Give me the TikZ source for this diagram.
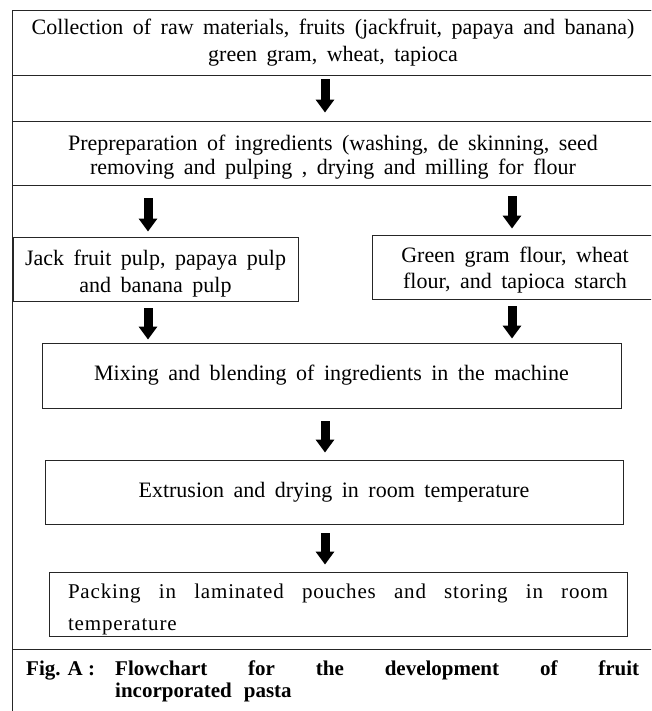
\documentclass[tikz,border=0pt]{standalone}
\usepackage{fontspec}
\setmainfont{Liberation Serif}
\newfontfamily\packfont[LetterSpace=4]{Liberation Serif}
\usetikzlibrary{arrows.meta}
\newcommand\bodyfont{\fontsize{22}{27}\selectfont\spaceskip=9.5pt plus 3pt minus 2pt\relax}
\newcommand\upstrut[1]{\rule{0pt}{#1}}
\begin{document}
\begin{tikzpicture}[x=1pt,y=-1pt,
  box/.style={draw=black!85, line width=0.9pt, inner sep=0pt, align=center, font=\bodyfont},
  blockarrow/.style={line width=9pt, -{Triangle[width=18pt,length=13pt]}},
  frame/.style={draw=black!85, line width=0.9pt}
]
\useasboundingbox (0,0) rectangle (651,711);
\clip (0,0) rectangle (651,711);
% outer frame and caption rule
\draw[frame] (12,720) -- (12,10) -- (662,10) -- (662,720);
\draw[frame] (12,649) -- (662,649);
% boxes
\node[box, minimum width=642pt, minimum height=65pt] (b1) at (333,42.5)
  {Collection of raw materials, fruits (jackfruit, papaya and banana)\\green gram, wheat, tapioca};
\node[box, minimum width=642pt, minimum height=64pt, font=\bodyfont\fontsize{22}{24}\selectfont] (b2) at (333,153)
  {\upstrut{23pt}Prepreparation of ingredients (washing, de skinning, seed\\removing and pulping , drying and milling for flour};
\node[box, minimum width=285pt, minimum height=64pt] (b3a) at (155.5,269)
  {\upstrut{25pt}Jack fruit pulp, papaya pulp\\and banana pulp};
\node[box, minimum width=286pt, minimum height=64pt, font=\bodyfont\fontsize{22}{26}\selectfont] (b3b) at (515,267)
  {\upstrut{21pt}Green gram flour, wheat\\flour, and tapioca starch};
\node[box, minimum width=579pt, minimum height=65pt] (b4) at (331.5,375.5)
  {Mixing and blending of ingredients in the machine};
\node[box, minimum width=578pt, minimum height=64pt] (b5) at (334,492)
  {Extrusion and drying in room temperature};
\node[box, minimum width=578pt, minimum height=64pt, align=left,
      font=\packfont\fontsize{21}{32}\selectfont] (b6) at (338,604)
  {\upstrut{26pt}\makebox[540pt][s]{Packing in laminated pouches and storing in room}\\temperature};
% caption
\node[anchor=base west, inner sep=0pt, font=\bfseries\fontsize{21}{22}\selectfont] (cap) at (26,675)
  {\begin{tabular}[t]{@{}l@{}l@{}}
   \makebox[89pt][l]{Fig. A :} & \makebox[524pt][s]{Flowchart for the development of fruit}\\
   & incorporated\hspace{12pt}pasta
   \end{tabular}};
% arrow columns
\coordinate (xm) at (325,0);
\coordinate (xl) at (148,0);
\coordinate (xr) at (512,0);
% arrows
\draw[blockarrow, shorten <=4pt, shorten >=8pt] (b1.south -| xm) -- (b2.north -| xm);
\draw[blockarrow, shorten <=13pt, shorten >=5pt] (b2.south -| xl) -- (b3a.north -| xl);
\draw[blockarrow, shorten <=11pt, shorten >=6pt] (b2.south -| xr) -- (b3b.north -| xr);
\draw[blockarrow, shorten <=7pt, shorten >=3pt] (b3a.south -| xl) -- (b4.north -| xl);
\draw[blockarrow, shorten <=7pt, shorten >=4pt] (b3b.south -| xr) -- (b4.north -| xr);
\draw[blockarrow, shorten <=13pt, shorten >=7pt] (b4.south -| xm) -- (b5.north -| xm);
\draw[blockarrow, shorten <=9pt, shorten >=7pt] (b5.south -| xm) -- (b6.north -| xm);
\end{tikzpicture}
\end{document}
